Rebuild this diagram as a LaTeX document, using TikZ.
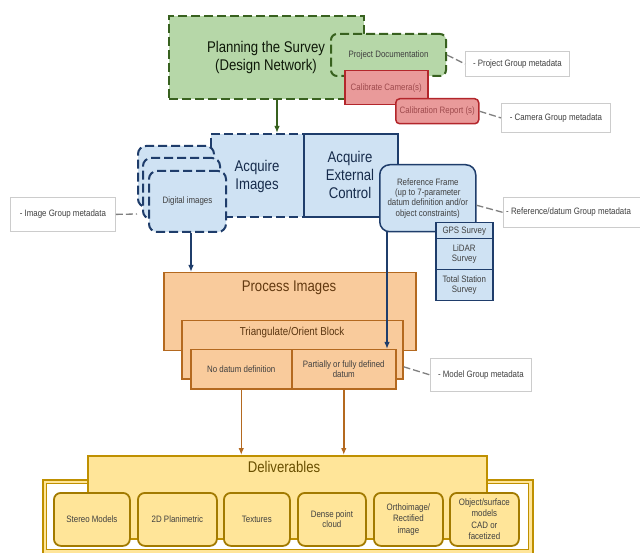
\documentclass[tikz,border=0pt]{standalone}
\usepackage{fontspec}
\setmainfont{Liberation Sans}[FakeStretch=0.85]
\usetikzlibrary{arrows.meta}
\definecolor{lgreen}{HTML}{B6D7A8}
\definecolor{dgreen}{HTML}{38611F}
\definecolor{lred}{HTML}{E99A9A}
\definecolor{dred}{HTML}{B3262B}
\definecolor{lblue}{HTML}{CFE2F3}
\definecolor{dblue}{HTML}{1F3D6B}
\definecolor{lorange}{HTML}{F9CB9C}
\definecolor{dorange}{HTML}{B4691F}
\definecolor{lyellow}{HTML}{FFE599}
\definecolor{dyellow}{HTML}{BF9000}
\definecolor{txt}{HTML}{404040}
\definecolor{metaline}{HTML}{808080}
\newcommand\dgBig{\fontsize{15.5}{18}\selectfont}
\newcommand\dgSmall{\fontsize{9.3}{10.5}\selectfont}
\tikzset{
  base/.style={anchor=north west, inner sep=1pt, align=center, text=txt, font=\dgSmall},
  gdash/.style={base, draw=dgreen, fill=lgreen, line width=2pt, dash pattern=on 9pt off 4pt},
  redbox/.style={base, draw=dred, fill=lred, line width=1.5pt, text=dred!60!gray},
  metabox/.style={base, draw=black!20, fill=white, line width=0.8pt},
  bdash/.style={base, draw=dblue, fill=lblue, line width=2pt, dash pattern=on 9pt off 4pt},
  bsolid/.style={base, draw=dblue, fill=lblue, line width=1.8pt},
  obox/.style={base, draw=dorange, fill=lorange, line width=1.5pt},
  ybox/.style={base, draw=dyellow, fill=lyellow, line width=1.5pt},
  card/.style={base, draw=dyellow!85!black, fill=lyellow, line width=1.8pt, rounded corners=7pt},
  bigtxt/.style={inner sep=0pt, align=center, font=\dgBig},
  metaconn/.style={draw=metaline, line width=1.3pt, dash pattern=on 7pt off 3pt},
  arr/.style={line width=1.5pt, -{Latex[length=7pt,width=5.5pt]}}
}
\begin{document}
\begin{tikzpicture}[x=1pt,y=-1pt]
\clip (0,0) rectangle (640,553);
\fill[white] (0,0) rectangle (640,553);

% ---- Planning ----
\node[gdash, minimum width=195pt, minimum height=83pt] (plan) at (168,15) {};
\node[bigtxt, text=black!75!dgreen] (plantxt) at (266,57) {Planning the Survey\\(Design Network)};
\node[gdash, rounded corners=6pt, minimum width=115pt, minimum height=42pt] (projdoc) at (330,33) {Project Documentation};
\node[redbox, minimum width=83pt, minimum height=34pt] (calcam) at (344,70) {Calibrate Camera(s)};
\node[redbox, rounded corners=4pt, minimum width=83pt, minimum height=25pt] (calrep) at (395,98) {Calibration Report (s)};

\node[metabox, minimum width=104pt, minimum height=25pt] (projmeta) at (465,51) {- Project Group metadata};
\node[metabox, minimum width=109pt, minimum height=29pt] (cammeta) at (501,103) {- Camera Group metadata};
\draw[metaconn] (projdoc.east) -- (projmeta.west);
\draw[metaconn] (calrep.east) -- (cammeta.west);

% ---- Acquire ----
\node[bdash, minimum width=93pt, minimum height=83pt] (acqimg) at (210,133) {};
\node[bigtxt, text=dblue!70!black] (acqimgtxt) at (257,176) {Acquire\\Images};
\node[bsolid, minimum width=94pt, minimum height=83pt] (aec) at (303,133) {};
\node[bigtxt, text=dblue!70!black] (aectxt) at (350,175) {Acquire\\External\\Control};
\draw[arr, dgreen] ([xshift=10.5pt]plan.south) -- ([xshift=10.5pt]plan.south |- acqimg.north);

\node[bdash, rounded corners=8pt, minimum width=76pt, minimum height=61pt] (back) at (137,145) {};
\node[bdash, rounded corners=8pt, minimum width=77pt, minimum height=61pt] (mid) at (142,157) {};
\node[bdash, rounded corners=8pt, minimum width=77pt, minimum height=61pt] (front) at (148,170) {Digital images};

\node[bsolid, line width=1.5pt, rounded corners=10pt, minimum width=96pt, minimum height=67pt, font=\fontsize{9.3}{10.3}\selectfont] (ref) at (379,164) {Reference Frame\\(up to 7-parameter\\datum definition and/or\\object constraints)};
\node[bsolid, line width=1.5pt, minimum width=57pt, minimum height=16pt] (gps) at (435,222) {GPS Survey};
\node[bsolid, line width=1.5pt, minimum width=57pt, minimum height=31pt] (lidar) at (435,238) {LiDAR\\Survey};
\node[bsolid, line width=1.5pt, minimum width=57pt, minimum height=31pt] (total) at (435,269) {Total Station\\Survey};

\node[metabox, minimum width=105pt, minimum height=34pt] (imgmeta) at (10,197) {- Image Group metadata};
\node[metabox, minimum width=145pt, minimum height=30pt] (refmeta) at (503,197) {};
\node[anchor=west, inner sep=0pt, text=txt, font=\dgSmall] (refmetatxt) at (506,212) {- Reference/datum Group metadata};
\draw[metaconn] (imgmeta.east) -- ([yshift=-6pt]back.south west);
\draw[metaconn] ([yshift=-7pt]ref.east) -- (refmeta.west);

% ---- Process ----
\node[obox, minimum width=252pt, minimum height=78pt] (proc) at (163,272) {};
\node[bigtxt, text=dorange!55!black] (proctxt) at (289,288) {Process Images};
\node[obox, minimum width=221pt, minimum height=58pt] (tri) at (181,320) {};
\node[inner sep=0pt, font=\fontsize{11.5}{13}\selectfont, text=dorange!50!black] (tritxt) at (292,333) {Triangulate/Orient Block};
\node[obox, minimum width=101pt, minimum height=39pt] (nodat) at (190,349) {No datum definition};
\node[obox, minimum width=104pt, minimum height=39pt] (partial) at (291,349) {Partially or fully defined\\datum};

\node[metabox, minimum width=101pt, minimum height=33pt] (modelmeta) at (430,358) {- Model Group metadata};
\draw[metaconn] ([yshift=-17pt]tri.east) -- (modelmeta.west);

\draw[arr, dblue] ([xshift=3.5pt]front.south) -- ([xshift=3.5pt]front.south |- proc.north);
\draw[arr, dblue] ([xshift=8pt]ref.south west) -- ([xshift=8pt]ref.south west |- partial.north);

% ---- Deliverables ----
\node[ybox, minimum width=490pt, minimum height=76pt] (frame) at (42,479) {};
\node[base, draw=dyellow, fill=white, line width=1.2pt, minimum width=482pt, minimum height=66pt] (frameinner) at (46,483) {};
\node[ybox, minimum width=399pt, minimum height=83pt] (deliv) at (87,455) {};
\node[bigtxt, text=dyellow!55!black] (delivtxt) at (284,467) {Deliverables};

\draw[arr, dorange] (nodat.south) -- (nodat.south |- deliv.north);
\draw[arr, dorange] (partial.south) -- (partial.south |- deliv.north);

\node[card, minimum width=76pt, minimum height=53pt] (c1) at (53,492) {Stereo Models};
\node[card, minimum width=79pt, minimum height=53pt] (c2) at (137,492) {2D Planimetric};
\node[card, minimum width=66pt, minimum height=53pt] (c3) at (223,492) {Textures};
\node[card, minimum width=68pt, minimum height=53pt] (c4) at (297,492) {Dense point\\cloud};
\node[card, minimum width=69pt, minimum height=53pt, font=\fontsize{9.3}{11.5}\selectfont] (c5) at (373,492) {Orthoimage/\\Rectified\\image};
\node[card, minimum width=69pt, minimum height=53pt, font=\fontsize{9.3}{11.5}\selectfont] (c6) at (449,492) {Object/surface\\models\\CAD or\\facetized};
\end{tikzpicture}
\end{document}
